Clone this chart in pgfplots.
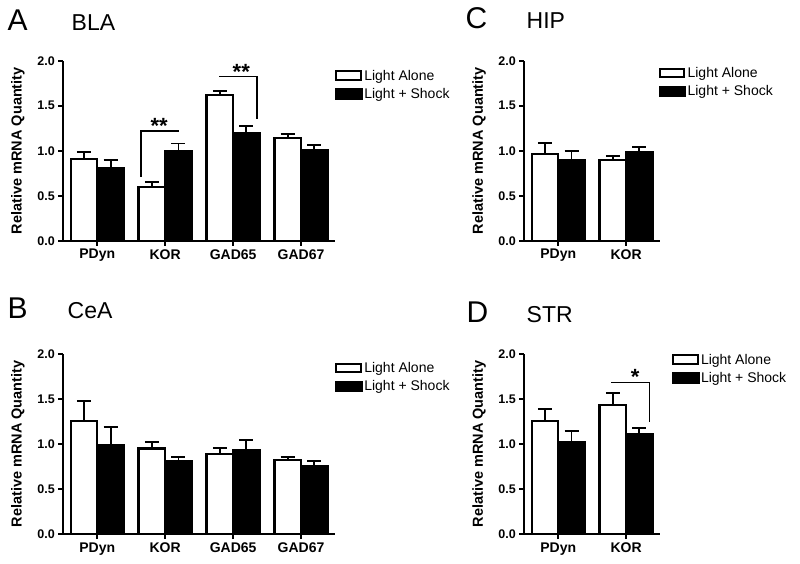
\documentclass[border=0pt]{standalone}
\usepackage{pgfplots}
\pgfplotsset{compat=1.18}
\usepackage{fontspec}
\setmainfont{Liberation Sans}

\pgfplotsset{
  panel/.style={
    scale only axis,
    height=180pt,
    ymin=0, ymax=2,
    enlargelimits=false,
    ytick={0,0.5,1,1.5,2},
    yticklabels={0.0,0.5,1.0,1.5,2.0},
    axis lines*=left,
    axis line style={line width=2.3pt,-},
    tick style={line width=1.8pt,black},
    tick align=outside,
    major tick length=5pt,
    ybar=0pt,
    bar width=26.6pt,
    yticklabel style={font=\bfseries\fontsize{12.5}{12.5}\selectfont},
    xticklabel style={font=\bfseries\fontsize{14}{14}\selectfont},
    ylabel={Relative mRNA Quantity},
    every axis y label/.style={at={(axis description cs:0,0.5)},xshift=-45.3pt,rotate=90,anchor=center,font=\bfseries\fontsize{14.5}{15}\selectfont},
    legend style={draw=none,fill=none,inner sep=0pt,anchor=north west,font=\fontsize{14}{16}\selectfont,row sep=2.5pt,cells={anchor=west}},
  },
  four/.style={width=271.7pt,xmin=-0.5,xmax=3.5,xtick={0,1,2,3},xticklabels={PDyn,KOR,GAD65,GAD67}},
  two/.style={width=135.7pt,xmin=-0.5,xmax=1.5,xtick={0,1},xticklabels={PDyn,KOR}},
  errs/.style={error bars/.cd,y dir=plus,y explicit,
    error bar style={line width=1.9pt,black},
    error mark=-,
    error mark options={rotate=90,line width=1.9pt,mark size=7pt,black}},
  whitebar/.style={fill=white,draw=black,line width=2.2pt,forget plot,bar shift=-13.3pt,errs},
  blackbar/.style={fill=black,draw=black,line width=2.2pt,forget plot,bar shift=13.3pt,errs},
}
\newcommand{\mylegend}{%
  \addlegendimage{legend image code/.code={\draw[fill=white,draw=black,line width=2pt] (1pt,-4.3pt) rectangle (25.7pt,4.3pt);}}
  \addlegendentry{Light Alone}
  \addlegendimage{legend image code/.code={\fill[black] (0pt,-5.3pt) rectangle (26.7pt,5.3pt);}}
  \addlegendentry{Light + Shock}
}

\begin{document}
\begin{tikzpicture}
\path[use as bounding box] (0,0) rectangle (800pt,563pt);

% titles
\node[anchor=base west,inner sep=0pt,font=\fontsize{30}{30}\selectfont] at (7.5pt,532.3pt) {A};
\node[anchor=base west,inner sep=0pt,font=\fontsize{23}{23}\selectfont] at (71.5pt,532.3pt) {BLA};
\node[anchor=base west,inner sep=0pt,font=\fontsize{30}{30}\selectfont] at (7.5pt,244.7pt) {B};
\node[anchor=base west,inner sep=0pt,font=\fontsize{23}{23}\selectfont] at (67.5pt,244.7pt) {CeA};
\node[anchor=base west,inner sep=0pt,font=\fontsize{30}{30}\selectfont] at (465.5pt,534.7pt) {C};
\node[anchor=base west,inner sep=0pt,font=\fontsize{23}{23}\selectfont] at (526.5pt,534.7pt) {HIP};
\node[anchor=base west,inner sep=0pt,font=\fontsize{30}{30}\selectfont] at (466.5pt,240.3pt) {D};
\node[anchor=base west,inner sep=0pt,font=\fontsize{23}{23}\selectfont] at (526.5pt,240.3pt) {STR};

% Panel A: BLA
\begin{axis}[panel,four,at={(63.3pt,322.3pt)},anchor=south west,
  legend style={at={(axis description cs:1,1)},yshift=-7pt}]
\addplot[whitebar] coordinates {(0,0.91) +- (0,0.08) (1,0.60) +- (0,0.05) (2,1.615) +- (0,0.05) (3,1.145) +- (0,0.04)};
\addplot[blackbar] coordinates {(0,0.81) +- (0,0.09) (1,0.99) +- (0,0.09) (2,1.19) +- (0,0.08) (3,1.005) +- (0,0.06)};
\mylegend
\draw[line width=1.5pt] (axis cs:0.647,0.71) -- (axis cs:0.647,1.22) -- (axis cs:1.196,1.22);
\node[font=\bfseries\fontsize{22}{22}\selectfont] at (axis cs:0.91,1.27) {**};
\draw[line width=1.5pt] (axis cs:1.794,1.822) -- (axis cs:2.349,1.822) -- (axis cs:2.349,1.352);
\node[font=\bfseries\fontsize{22}{22}\selectfont] at (axis cs:2.12,1.875) {**};
\end{axis}

% Panel B: CeA
\begin{axis}[panel,four,at={(63.3pt,29pt)},anchor=south west,
  legend style={at={(axis description cs:1,1)},yshift=-6pt}]
\addplot[whitebar] coordinates {(0,1.255) +- (0,0.22) (1,0.95) +- (0,0.07) (2,0.885) +- (0,0.075) (3,0.82) +- (0,0.04)};
\addplot[blackbar] coordinates {(0,0.99) +- (0,0.20) (1,0.805) +- (0,0.055) (2,0.935) +- (0,0.105) (3,0.755) +- (0,0.06)};
\mylegend
\end{axis}

% Panel C: HIP
\begin{axis}[panel,two,at={(524.3pt,322.3pt)},anchor=south west,
  legend style={at={(axis description cs:1,1)},xshift=-1.7pt,yshift=-4.3pt}]
\addplot[whitebar] coordinates {(0,0.96) +- (0,0.125) (1,0.893) +- (0,0.045)};
\addplot[blackbar] coordinates {(0,0.90) +- (0,0.10) (1,0.985) +- (0,0.06)};
\mylegend
\end{axis}

% Panel D: STR
\begin{axis}[panel,two,at={(524.3pt,29pt)},anchor=south west,
  legend style={at={(axis description cs:1,1)},xshift=11.7pt,yshift=2.3pt}]
\addplot[whitebar] coordinates {(0,1.26) +- (0,0.13) (1,1.43) +- (0,0.135)};
\addplot[blackbar] coordinates {(0,1.025) +- (0,0.12) (1,1.11) +- (0,0.07)};
\mylegend
\draw[line width=1.5pt] (axis cs:0.779,1.686) -- (axis cs:1.343,1.686) -- (axis cs:1.343,1.248);
\node[font=\bfseries\fontsize{22}{22}\selectfont] at (axis cs:1.133,1.74) {*};
\end{axis}
\end{tikzpicture}
\end{document}
